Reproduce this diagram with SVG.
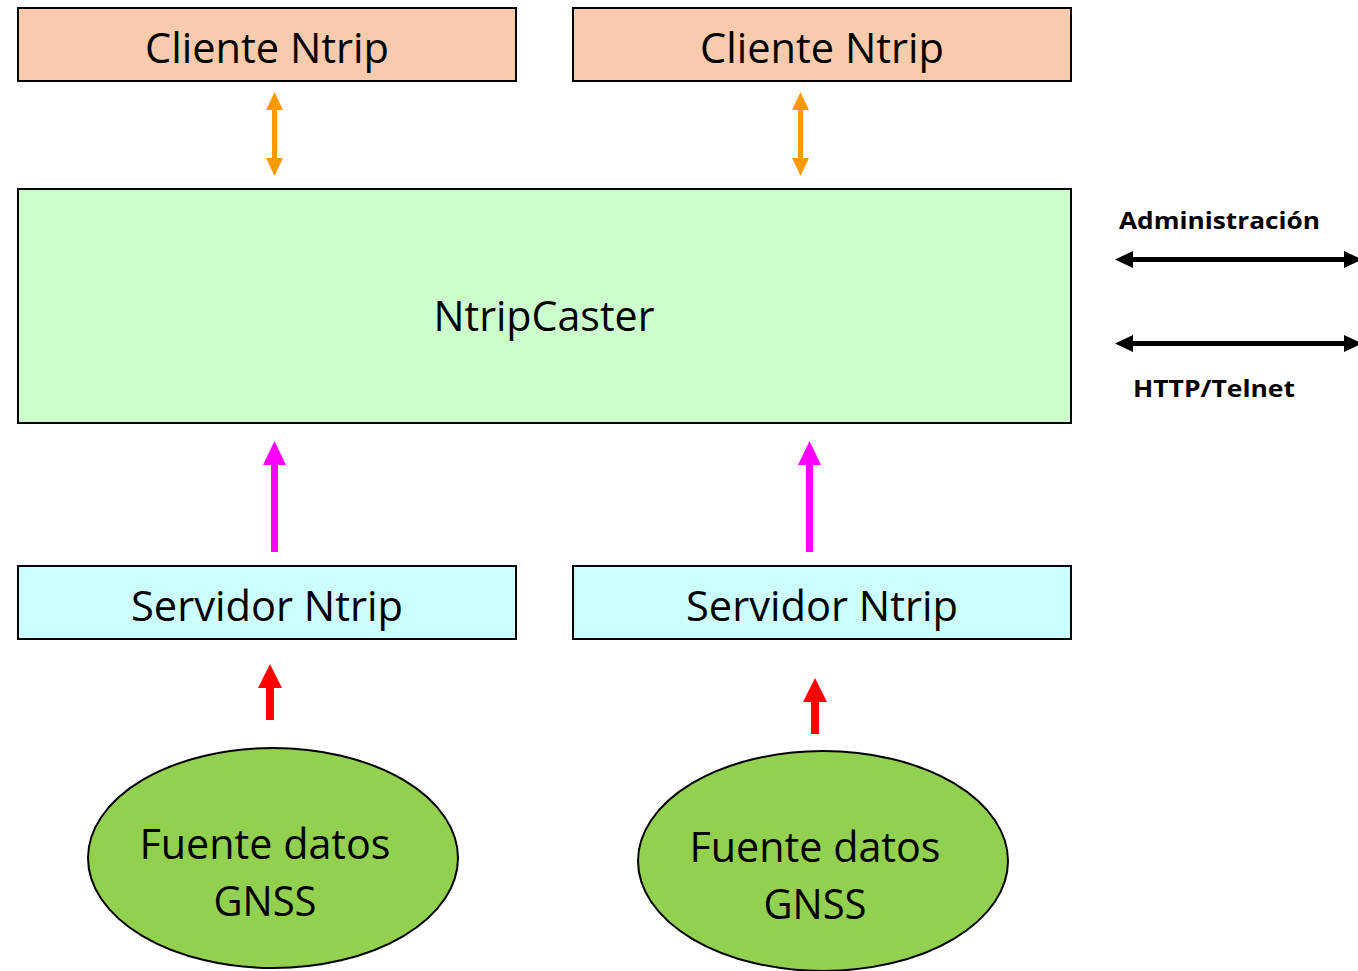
<svg xmlns="http://www.w3.org/2000/svg" width="1358" height="971" viewBox="0 0 1358 971">
  <style>
    .box { stroke: #000; stroke-width: 2; }
    .client { fill: #F8CBAD; }
    .caster { fill: #CCFFCC; }
    .server { fill: #CCFFFF; }
    .source { fill: #92D050; stroke: #000; stroke-width: 2; }
    .lbl { font-family: "Open Sans", "Liberation Sans", sans-serif; font-size: 42px; fill: #000; text-anchor: middle; }
    .side { font-family: "Open Sans", "Liberation Sans", sans-serif; font-size: 24px; font-weight: bold; fill: #000; }
  </style>
  <rect width="1358" height="971" fill="#fff"/>

  <g id="cliente1">
    <rect class="box client" x="18" y="8" width="498" height="73"/>
    <text class="lbl" x="267" y="63" textLength="244" lengthAdjust="spacingAndGlyphs">Cliente Ntrip</text>
  </g>
  <g id="cliente2">
    <rect class="box client" x="573" y="8" width="498" height="73"/>
    <text class="lbl" x="822" y="63" textLength="244" lengthAdjust="spacingAndGlyphs">Cliente Ntrip</text>
  </g>
  <g id="caster">
    <rect class="box caster" x="18" y="189" width="1053" height="234"/>
    <text class="lbl" x="544" y="331" textLength="221" lengthAdjust="spacingAndGlyphs">NtripCaster</text>
  </g>
  <g id="servidor1">
    <rect class="box server" x="18" y="566" width="498" height="73"/>
    <text class="lbl" x="267" y="621" textLength="272" lengthAdjust="spacingAndGlyphs">Servidor Ntrip</text>
  </g>
  <g id="servidor2">
    <rect class="box server" x="573" y="566" width="498" height="73"/>
    <text class="lbl" x="822" y="621" textLength="272" lengthAdjust="spacingAndGlyphs">Servidor Ntrip</text>
  </g>
  <g id="fuente1">
    <ellipse class="source" cx="273" cy="858" rx="185" ry="110"/>
    <text class="lbl" x="265" y="859" textLength="251" lengthAdjust="spacingAndGlyphs">Fuente datos</text>
    <text class="lbl" x="265" y="916" textLength="103" lengthAdjust="spacingAndGlyphs">GNSS</text>
  </g>
  <g id="fuente2">
    <ellipse class="source" cx="823" cy="861" rx="185" ry="110"/>
    <text class="lbl" x="815" y="862" textLength="251" lengthAdjust="spacingAndGlyphs">Fuente datos</text>
    <text class="lbl" x="815" y="919" textLength="103" lengthAdjust="spacingAndGlyphs">GNSS</text>
  </g>

  <g id="side-labels">
    <text class="side" x="1119" y="229" textLength="201" lengthAdjust="spacingAndGlyphs">Administración</text>
    <text class="side" x="1133" y="397" textLength="162" lengthAdjust="spacingAndGlyphs">HTTP/Telnet</text>
  </g>

  <g id="connectors">
    <!-- client links: two-headed orange -->
    <g fill="#FF9900">
      <rect x="272" y="108" width="5" height="52"/>
      <polygon points="274.5,92 283,110 266,110"/>
      <polygon points="274.5,176 283,158 266,158"/>
      <rect x="798" y="108" width="5" height="52"/>
      <polygon points="800.5,92 809,110 792,110"/>
      <polygon points="800.5,176 809,158 792,158"/>
    </g>
    <!-- server uplinks: magenta -->
    <g fill="#FF00FF">
      <rect x="271" y="462" width="7" height="90"/>
      <polygon points="274.5,441 286,465 263,465"/>
      <rect x="806" y="462" width="7" height="90"/>
      <polygon points="809.5,441 821,465 798,465"/>
    </g>
    <!-- data source feeds: red -->
    <g fill="#FF0000">
      <rect x="266" y="686" width="8" height="34"/>
      <polygon points="270,664 282,688 258,688"/>
      <rect x="811" y="700" width="8" height="34"/>
      <polygon points="815,678 827,702 803,702"/>
    </g>
    <!-- external links: black, two-headed -->
    <g fill="#000">
      <rect x="1128" y="257" width="218" height="5"/>
      <polygon points="1115,259.5 1133,251 1133,268"/>
      <polygon points="1362,259.5 1344,251 1344,268"/>
      <rect x="1128" y="341" width="218" height="5"/>
      <polygon points="1115,343.5 1133,335 1133,352"/>
      <polygon points="1362,343.5 1344,335 1344,352"/>
    </g>
  </g>
</svg>
